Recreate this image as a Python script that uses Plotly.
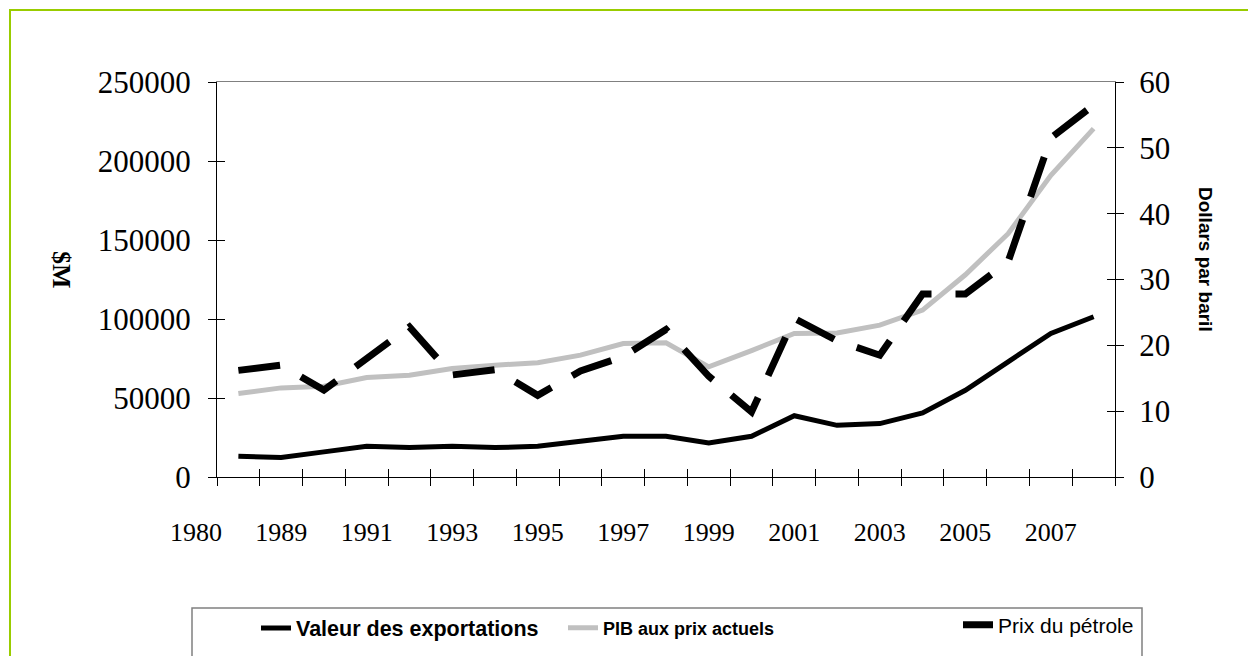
import plotly.graph_objects as go

# ---------------- data ----------------
years = list(range(1988, 2009))
exports = [13100, 12300, 15900, 19400, 18600, 19400, 18600, 19400, 22600, 25800,
           25800, 21500, 25800, 38800, 32700, 33800, 40600, 54900, 72900, 90900, 101400]
gdp = [52800, 56400, 57500, 63000, 64400, 68700, 70800, 72300, 77100, 84500,
       85000, 69700, 80000, 90800, 91200, 96100, 105600, 128000, 154000, 191000, 220500]
oil = [16.2, 17.0, 13.2, 18.1, 22.8, 15.5, 16.3, 12.4, 16.1, 18.3,
       22.4, 15.3, 9.9, 24.1, 20.7, 18.5, 27.8, 27.8, 32.7, 51.5, 56.5]
tick_years = list(range(1989, 2008, 2))
stray_label = "1980"
left_ticks = [0, 50000, 100000, 150000, 200000, 250000]
right_ticks = [0, 10, 20, 30, 40, 50, 60]
series_names = ["Valeur des exportations", "PIB aux prix actuels", "Prix du pétrole"]
left_title = "$M"
right_title = "Dollars par baril"

# ---------------- layout geometry ----------------
W, H = 1248, 656
L, R, T, B = 217, 133, 82, 179
PW, PH = W - L - R, H - T - B


def px_x(px):
    return (px - L) / PW


def px_y(py):
    return (H - B - py) / PH


def cx(px):
    return px / W


def cy(py):
    return 1 - py / H


xr = [years[0] - 0.5, years[-1] + 0.5]
boundaries = [y - 0.5 for y in years] + [years[-1] + 0.5]
serif = "Liberation Serif"
sans = "Liberation Sans"

fig = go.Figure()
fig.add_trace(go.Scatter(x=years, y=exports, mode="lines", name="<b>" + series_names[0] + "</b>",
                         line=dict(color="black", width=5), legend="legend"))
fig.add_trace(go.Scatter(x=years, y=gdp, mode="lines", name="<b>" + series_names[1] + "</b>",
                         line=dict(color="#C0C0C0", width=5), legend="legend2"))
fig.add_trace(go.Scatter(x=years, y=oil, mode="lines", name=series_names[2], yaxis="y2",
                         line=dict(color="black", width=7, dash="42px,24px"), legend="legend3"))
# helper traces so that the tick-only overlay axes are drawn
for xa, ya in [("x2", "y3"), ("x3", "y4"), ("x4", "y3")]:
    fig.add_trace(go.Scatter(x=[None], y=[None], xaxis=xa, yaxis=ya, showlegend=False,
                             hoverinfo="skip"))

common = dict(showgrid=False, zeroline=False)


def legend_box(px, py, size):
    return dict(xref="container", yref="container", x=cx(px), y=cy(py),
                xanchor="left", yanchor="middle", orientation="h",
                bgcolor="rgba(0,0,0,0)", borderwidth=0,
                font=dict(family=sans, size=size, color="black"))


fig.update_layout(
    width=W, height=H, margin=dict(l=L, r=R, t=T, b=B, autoexpand=False),
    paper_bgcolor="white", plot_bgcolor="white",
    xaxis=dict(range=xr, tickmode="array", tickvals=tick_years, ticktext=[str(v) for v in tick_years],
               ticks="", showline=True, linecolor="black", linewidth=1,
               tickfont=dict(family=serif, size=26, color="black"), ticklabelstandoff=32, **common),
    xaxis2=dict(range=xr, overlaying="x", anchor="y", tickmode="array", tickvals=boundaries,
                ticks="outside", ticklen=8, tickcolor="black", showticklabels=False,
                showline=False, **common),
    xaxis3=dict(range=xr, overlaying="x", anchor="y", tickmode="array", tickvals=boundaries,
                ticks="inside", ticklen=8, tickcolor="black", showticklabels=False,
                showline=False, **common),
    xaxis4=dict(range=xr, overlaying="x", anchor="y", side="top", showline=True,
                linecolor="#808080", linewidth=1, ticks="", showticklabels=False, **common),
    yaxis=dict(range=[0, 250000], tickmode="array", tickvals=left_ticks,
               ticktext=[str(v) for v in left_ticks], ticks="outside",
               ticklen=8, tickcolor="black", showline=True, linecolor="black", linewidth=1,
               tickfont=dict(family=serif, size=31, color="black"), ticklabelstandoff=11, **common),
    yaxis2=dict(range=[0, 60], overlaying="y", side="right", anchor="x", tickmode="array",
                tickvals=right_ticks, ticktext=[str(v) for v in right_ticks], ticks="outside",
                ticklen=8, tickcolor="black", showline=True, linecolor="black", linewidth=1,
                tickfont=dict(family=serif, size=31, color="black"), ticklabelstandoff=9, **common),
    yaxis3=dict(range=[0, 250000], overlaying="y", side="left", anchor="x", tickmode="array",
                tickvals=left_ticks, ticks="inside", ticklen=8, tickcolor="black",
                showticklabels=False, showline=False, **common),
    yaxis4=dict(range=[0, 60], overlaying="y", side="right", anchor="x", tickmode="array",
                tickvals=right_ticks, ticks="inside", ticklen=8, tickcolor="black",
                showticklabels=False, showline=False, **common),
    legend=legend_box(256, 628, 21.5),
    legend2=legend_box(563, 628, 18),
    legend3=legend_box(958, 625, 21),
    showlegend=True,
)

# stray first category label, one category left of the first year
fig.add_annotation(xref="paper", yref="paper",
                   x=((years[0] - 1) - xr[0]) / (xr[1] - xr[0]), y=px_y(532),
                   text=stray_label, showarrow=False, xanchor="center", yanchor="middle",
                   font=dict(family=serif, size=26, color="black"))
fig.add_annotation(xref="paper", yref="paper", x=px_x(62), y=px_y(270), text="<b>" + left_title + "</b>",
                   textangle=90, showarrow=False, xanchor="center", yanchor="middle",
                   font=dict(family=serif, size=26, color="black"))
fig.add_annotation(xref="paper", yref="paper", x=px_x(1206), y=px_y(259), text="<b>" + right_title + "</b>",
                   textangle=90, showarrow=False, xanchor="center", yanchor="middle",
                   font=dict(family=sans, size=19, color="black"))

# legend frame and outer green frame
fig.add_shape(type="rect", xref="paper", yref="paper", x0=px_x(192), x1=px_x(1142),
              y0=px_y(608), y1=px_y(680), line=dict(color="#808080", width=1.5), layer="above")
fig.add_shape(type="rect", xref="paper", yref="paper", x0=px_x(10), x1=px_x(1270),
              y0=px_y(10), y1=px_y(680), line=dict(color="#99CC00", width=2), layer="above")

fig.write_html("out.html", config={"displayModeBar": False},
               post_script="document.body.style.margin='0';")
